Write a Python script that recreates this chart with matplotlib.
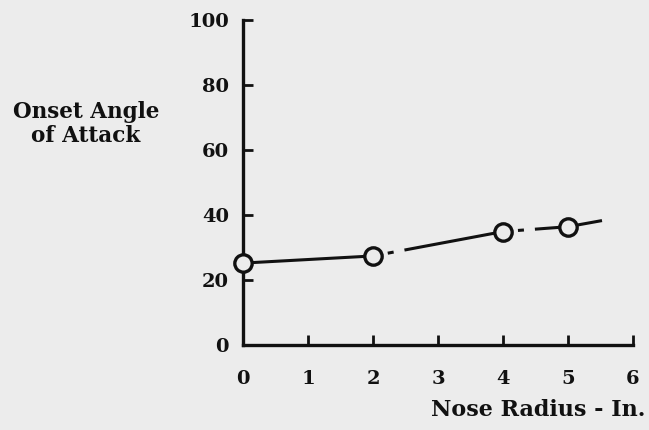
import matplotlib.pyplot as plt

# nose radius (in) vs onset angle of attack (deg)
radius = [0, 2, 4, 5]
onset = [25.2, 27.4, 34.9, 36.4]

# faired line: solid, two dash-dot legs, then a solid run-out past 5 in
solid_x = [0, 2]
solid_y = [25.2, 27.4]
leg1_x = [2, 4]
leg1_y = [27.4, 34.9]
leg2_x = [4, 5]
leg2_y = [34.9, 36.4]
tail_x = [5, 5.5]
tail_y = [36.4, 38.2]

x_ticks = [0, 1, 2, 3, 4, 5, 6]
y_ticks = [0, 20, 40, 60, 80, 100]

BG = '#ececec'
INK = '#111111'
FONT = 'DejaVu Serif'
PX = 0.72  # points per pixel at dpi 100

# gap, short dash, gap, long dash
LEG_STYLE = (217 * PX, (6 * PX, 11 * PX, 200 * PX, 15 * PX))


def main():
    plt.rcParams['lines.scale_dashes'] = False
    fig = plt.figure(figsize=(6.49, 4.30), dpi=100, facecolor=BG)
    ax = fig.add_axes([243 / 649, 85 / 430, 390 / 649, 325 / 430])
    ax.set_facecolor(BG)

    ax.plot(solid_x, solid_y, color=INK, lw=2.2)
    ax.plot(leg1_x, leg1_y, color=INK, lw=2.2, ls=LEG_STYLE, dash_capstyle='butt')
    ax.plot(leg2_x, leg2_y, color=INK, lw=2.2, ls=LEG_STYLE, dash_capstyle='butt')
    ax.plot(tail_x, tail_y, color=INK, lw=2.2)
    ax.plot(radius, onset, ls='none', marker='o', ms=12.5, mfc=BG,
            mec=INK, mew=2.4, zorder=5, clip_on=False)

    ax.set_xlim(0, 6)
    ax.set_ylim(0, 100)
    ax.set_xticks(x_ticks)
    ax.set_yticks(y_ticks)
    ax.tick_params(direction='in', length=7, width=2, color=INK,
                   labelsize=14, labelcolor=INK)
    ax.tick_params(axis='x', pad=18)
    ax.tick_params(axis='y', pad=10)
    for lab in ax.get_xticklabels() + ax.get_yticklabels():
        lab.set_family(FONT)
        lab.set_weight('bold')

    for side in ['top', 'right']:
        ax.spines[side].set_visible(False)
    for side in ['left', 'bottom']:
        ax.spines[side].set_linewidth(2.4)
        ax.spines[side].set_color(INK)

    fig.text(86 / 649, 1 - 124 / 430, 'Onset Angle\nof Attack', ha='center',
             va='center', fontsize=15.5, family=FONT, weight='bold',
             color=INK, linespacing=1.15)
    fig.text(645 / 649, 1 - 410 / 430, 'Nose Radius - In.', ha='right',
             va='center', fontsize=16, family=FONT, weight='bold', color=INK)

    fig.savefig('out.png', dpi=100, facecolor=BG)


if __name__ == "__main__":
    main()
